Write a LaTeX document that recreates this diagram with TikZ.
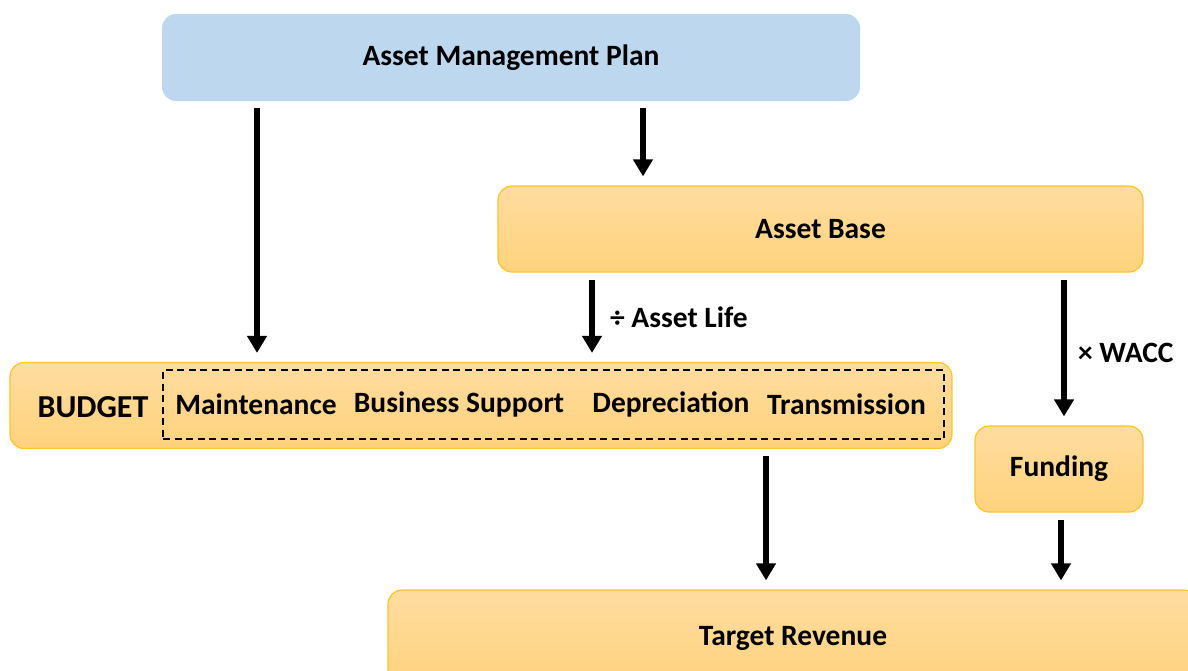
\documentclass[tikz,border=0pt]{standalone}
\usepackage{fontspec}
\setmainfont{Carlito}
\usetikzlibrary{arrows.meta}
\definecolor{planblue}{RGB}{189,215,238}
\definecolor{boxedge}{RGB}{255,196,40}
\definecolor{boxtop}{RGB}{255,220,160}
\definecolor{boxbot}{RGB}{255,210,124}
\begin{document}
\begin{tikzpicture}[x=1pt,y=-1pt,
  every node/.style={font=\fontsize{29.5}{35}\selectfont\bfseries},
  plan/.style={fill=planblue,rounded corners=14pt,minimum width=#1,minimum height=87pt,inner sep=0pt},
  stage/.style={draw=boxedge,line width=1.2pt,top color=boxtop,bottom color=boxbot,rounded corners=14pt,minimum width=#1,minimum height=86pt,inner sep=0pt},
  group/.style={draw,line width=1.5pt,dash pattern=on 7pt off 4.5pt,minimum width=781pt,minimum height=69pt,inner sep=0pt},
  flow/.style={-{Triangle[length=17pt,width=19pt]},line width=5.5pt,shorten <=7pt,shorten >=9pt}]
\useasboundingbox (0,0) rectangle (1188,670);
\clip (0,0) rectangle (1188,670);

\node[plan=698pt] (amp) at (511,57.5) {Asset Management Plan};
\node[stage=645pt] (base) at (820.5,229) {Asset Base};
\node[stage=942pt] (budget) at (481,405.5) {};
\node[group] (items) at (553.5,404.5) {};
\node[font=\fontsize{32}{38}\selectfont\bfseries] (budgetlbl) at (93,407) {BUDGET};
\foreach \x/\t [count=\i] in {256/Maintenance,459/Business Support,671/Depreciation,846.5/Transmission}{ \node (item\i) at (\x,404.5) {\t};}
\node[stage=168pt] (fund) at (1059,469) {Funding};
\node[stage=810pt,minimum height=96pt] (target) at (793,638) {Target Revenue};

\draw[flow] (amp.south -| 257,0) -- (budget.north -| 257,0);
\draw[flow] (amp.south -| 643,0) -- (base.north -| 643,0);
\draw[flow] (base.south -| 592,0) -- (budget.north -| 592,0) node[midway,right=12pt] (lifelbl) {÷ Asset Life};
\draw[flow] (base.south -| 1064,0) -- (fund.north -| 1064,0) node[midway,right=8pt,yshift=-4pt] (waccll) {× WACC};
\draw[flow] (budget.south -| 766,0) -- (target.north -| 766,0);
\draw[flow] (fund.south -| 1061,0) -- (target.north -| 1061,0);
\end{tikzpicture}
\end{document}
